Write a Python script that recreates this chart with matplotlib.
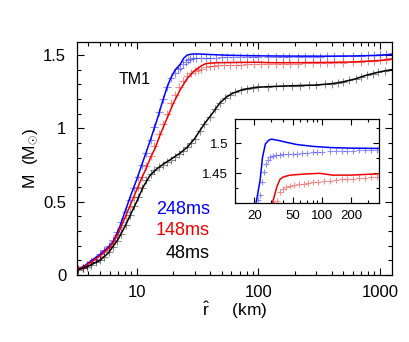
import matplotlib
matplotlib.use("Agg")
import matplotlib.pyplot as plt
from matplotlib.ticker import FixedLocator, MultipleLocator, NullFormatter, LogLocator

plt.rcParams["font.family"] = ["Liberation Sans", "DejaVu Sans"]
plt.rcParams["mathtext.fontset"] = "custom"
plt.rcParams["mathtext.rm"] = "Liberation Sans"
plt.rcParams["mathtext.it"] = "Liberation Sans:italic"

# ---- solid lines (r in km, enclosed mass in Msun) ----
r_blue = [3.25, 3.7, 4.27, 5.0, 5.85, 6.43, 7.2, 8.0, 9.0, 10.0, 11.0, 12.0, 13.2, 14.6,
          16.0, 17.6, 19.0, 20.8, 22.9, 24.3, 26.0, 28, 30, 35, 45, 55, 80, 121, 200,
          368, 600, 1000, 1250]
m_blue = [0.04, 0.06, 0.10, 0.14, 0.19, 0.23, 0.32, 0.43, 0.55, 0.65, 0.75, 0.84, 0.94, 1.05,
          1.16, 1.27, 1.34, 1.40, 1.438, 1.477, 1.499, 1.505, 1.507, 1.505, 1.501, 1.498, 1.495,
          1.493, 1.492, 1.4915, 1.493, 1.497, 1.503]

r_red = [3.25, 3.7, 4.27, 5.0, 5.85, 6.43, 7.2, 8.0, 9.0, 10.0, 11.0, 12.0, 13.0, 14.1,
         15.5, 17.6, 20, 22.7, 26, 29.2, 31.3, 34.1, 36.8, 40, 46.8, 70, 95, 128, 200,
         368, 600, 1000, 1250]
m_red = [0.04, 0.055, 0.09, 0.13, 0.18, 0.22, 0.30, 0.39, 0.49, 0.58, 0.66, 0.73, 0.80, 0.86,
         0.95, 1.06, 1.17, 1.26, 1.34, 1.385, 1.405, 1.427, 1.440, 1.444, 1.447, 1.449, 1.450,
         1.447, 1.447, 1.449, 1.452, 1.462, 1.473]

r_black = [3.25, 4.0, 5.0, 5.85, 7.0, 8.0, 9.0, 10.0, 11.3, 12.9, 14.5, 16.5, 18.8, 22.7,
           26, 30, 36, 42.6, 48, 55, 62, 75, 97, 160, 300, 400, 500, 630, 780, 1000, 1250]
m_black = [0.035, 0.06, 0.10, 0.15, 0.24, 0.33, 0.42, 0.50, 0.60, 0.68, 0.72, 0.755, 0.785, 0.83,
           0.87, 0.93, 1.03, 1.11, 1.17, 1.215, 1.24, 1.265, 1.28, 1.288, 1.295, 1.304, 1.317,
           1.337, 1.363, 1.385, 1.40]

# ---- "+" symbols ----
rp_blue = [3.3, 3.6, 3.9, 4.2, 4.6, 5.0, 5.4, 5.9, 6.4, 6.9, 7.5, 8.1, 8.8, 9.5, 10.3, 11.1,
           12.0, 13.0, 14.0, 15.2, 16.4, 17.7, 19.1, 20.6, 22.0, 22.9, 24.0, 25.2, 26.4, 27.6,
           29.0, 31.0, 33.5, 36.8, 40, 45, 50, 55, 62, 70, 80, 90, 100, 121, 140, 160, 180,
           210, 240, 280, 320, 368, 420, 500, 600, 700, 800, 900, 1000, 1120, 1250]
mp_blue = [0.04, 0.05, 0.07, 0.09, 0.11, 0.14, 0.17, 0.20, 0.24, 0.29, 0.36, 0.43, 0.51, 0.59,
           0.67, 0.75, 0.83, 0.92, 1.01, 1.11, 1.20, 1.28, 1.34, 1.38, 1.405, 1.414, 1.436,
           1.452, 1.466, 1.472, 1.477, 1.479, 1.480, 1.481, 1.482, 1.482, 1.483, 1.483, 1.484,
           1.484, 1.485, 1.485, 1.486, 1.4867, 1.487, 1.4875, 1.488, 1.488, 1.4885, 1.489,
           1.489, 1.4895, 1.490, 1.491, 1.493, 1.496, 1.499, 1.502, 1.505, 1.507, 1.51]

rp_red = [3.3, 3.6, 3.9, 4.2, 4.6, 5.0, 5.4, 5.9, 6.4, 6.9, 7.5, 8.1, 8.8, 9.5, 10.3, 11.1,
          12.0, 13.0, 14.0, 15.2, 16.4, 17.7, 19.1, 20.6, 22.2, 24.0, 26.0, 28.0, 30.0, 32.0,
          34.0, 36.8, 40, 43, 46.8, 52, 58, 65, 72, 81, 92, 105, 120, 140, 160, 181, 210, 240,
          280, 320, 368, 420, 500, 600, 700, 800, 900, 1000, 1120, 1250]
mp_red = [0.04, 0.05, 0.07, 0.085, 0.105, 0.13, 0.16, 0.19, 0.23, 0.27, 0.33, 0.39, 0.46, 0.53,
          0.60, 0.67, 0.74, 0.81, 0.88, 0.96, 1.03, 1.10, 1.17, 1.23, 1.28, 1.32, 1.355, 1.375,
          1.39, 1.398, 1.403, 1.418, 1.424, 1.427, 1.429, 1.431, 1.432, 1.433, 1.434, 1.435,
          1.436, 1.437, 1.438, 1.439, 1.440, 1.4405, 1.441, 1.442, 1.443, 1.4435, 1.444, 1.445,
          1.447, 1.450, 1.453, 1.456, 1.459, 1.463, 1.468, 1.473]

rp_black = [3.3, 3.6, 3.9, 4.2, 4.6, 5.0, 5.4, 5.9, 6.4, 6.9, 7.5, 8.1, 8.8, 9.5, 10.3, 11.1,
            12.0, 13.0, 14.0, 15.2, 16.4, 17.7, 19.1, 20.6, 22.2, 24.0, 26.0, 28.0, 30.0, 33.0,
            36.0, 40, 44, 48, 53, 58, 64, 72, 80, 90, 100, 120, 140, 160, 190, 220, 260, 300,
            350, 400, 450, 500, 560, 630, 700, 780, 870, 970, 1100, 1250]
mp_black = [0.035, 0.045, 0.055, 0.07, 0.085, 0.10, 0.125, 0.155, 0.19, 0.23, 0.28, 0.34, 0.41,
            0.47, 0.53, 0.59, 0.645, 0.69, 0.715, 0.735, 0.75, 0.77, 0.785, 0.805, 0.825, 0.845,
            0.87, 0.90, 0.93, 0.98, 1.03, 1.08, 1.13, 1.17, 1.205, 1.23, 1.245, 1.26, 1.27,
            1.275, 1.28, 1.284, 1.286, 1.288, 1.290, 1.291, 1.293, 1.295, 1.299, 1.304, 1.310,
            1.317, 1.326, 1.337, 1.348, 1.36, 1.372, 1.382, 1.392, 1.40]

labels = ["248ms", "148ms", "48ms"]
colors = ["#0000ff", "#ee0000", "black"]

series = [(r_blue, m_blue, rp_blue, mp_blue),
          (r_red, m_red, rp_red, mp_red),
          (r_black, m_black, rp_black, mp_black)]

fig = plt.figure(figsize=(4.09, 3.42), dpi=100)
ax = fig.add_axes([0.189, 0.196, 0.769, 0.682])


def draw(a, ms):
    for (rl, ml, rp, mp), c in zip(series, colors):
        a.plot(rp, mp, "+", color=c, ms=ms, mew=0.8, alpha=0.45, zorder=2)
        a.plot(rl, ml, "-", color=c, lw=1.1, zorder=3)


def style(a, major, minor):
    a.tick_params(which="both", direction="in", top=True, right=True)
    a.tick_params(which="major", length=major, width=0.8)
    a.tick_params(which="minor", length=minor, width=0.8)
    for s in a.spines.values():
        s.set_linewidth(0.9)


draw(ax, 6)
ax.set_xscale("log")
ax.set_xlim(3.25, 1250)
ax.set_ylim(0, 1.59)
ax.yaxis.set_major_locator(FixedLocator([0, 0.5, 1.0, 1.5]))
ax.yaxis.set_minor_locator(MultipleLocator(0.1))
ax.set_yticklabels(["0", "0.5", "1", "1.5"])
ax.xaxis.set_major_locator(FixedLocator([10, 100, 1000]))
ax.set_xticklabels(["10", "100", "1000"])
ax.xaxis.set_minor_locator(LogLocator(base=10, subs=range(2, 10)))
ax.xaxis.set_minor_formatter(NullFormatter())
style(ax, 5, 3)
ax.tick_params(axis="both", labelsize=12)
ax.tick_params(axis="y", pad=8)
ax.tick_params(axis="x", pad=7)
ax.set_ylabel(r"M  (M$_{\odot}$)", fontsize=12.5, labelpad=2)
ax.set_xlabel(r"$\hat{\mathrm{r}}$     (km)", fontsize=12.5, labelpad=0)

ax.text(0.13, 0.836, "TM1", transform=ax.transAxes, fontsize=11.5, ha="left", va="center")
for lab, c, yy in zip(labels, colors, [0.279, 0.189, 0.094]):
    ax.text(0.422, yy, lab, transform=ax.transAxes, color=c, fontsize=13,
            ha="right", va="center")

# inset zoom on the plateau
ins = fig.add_axes([0.5746, 0.4056, 0.3528, 0.2454])
draw(ins, 5)
ins.set_xscale("log")
ins.set_xlim(12.6, 393)
ins.set_ylim(1.40, 1.54)
ins.yaxis.set_major_locator(FixedLocator([1.45, 1.5]))
ins.set_yticklabels(["1.45", "1.5"])
ins.yaxis.set_minor_locator(MultipleLocator(0.025))
ins.xaxis.set_major_locator(FixedLocator([20, 50, 100, 200]))
ins.set_xticklabels(["20", "50", "100", "200"])
ins.xaxis.set_minor_locator(LogLocator(base=10, subs=range(2, 10)))
ins.xaxis.set_minor_formatter(NullFormatter())
style(ins, 4, 2.5)
ins.tick_params(axis="both", labelsize=9.5, pad=5)

fig.savefig("out.png", dpi=100)
